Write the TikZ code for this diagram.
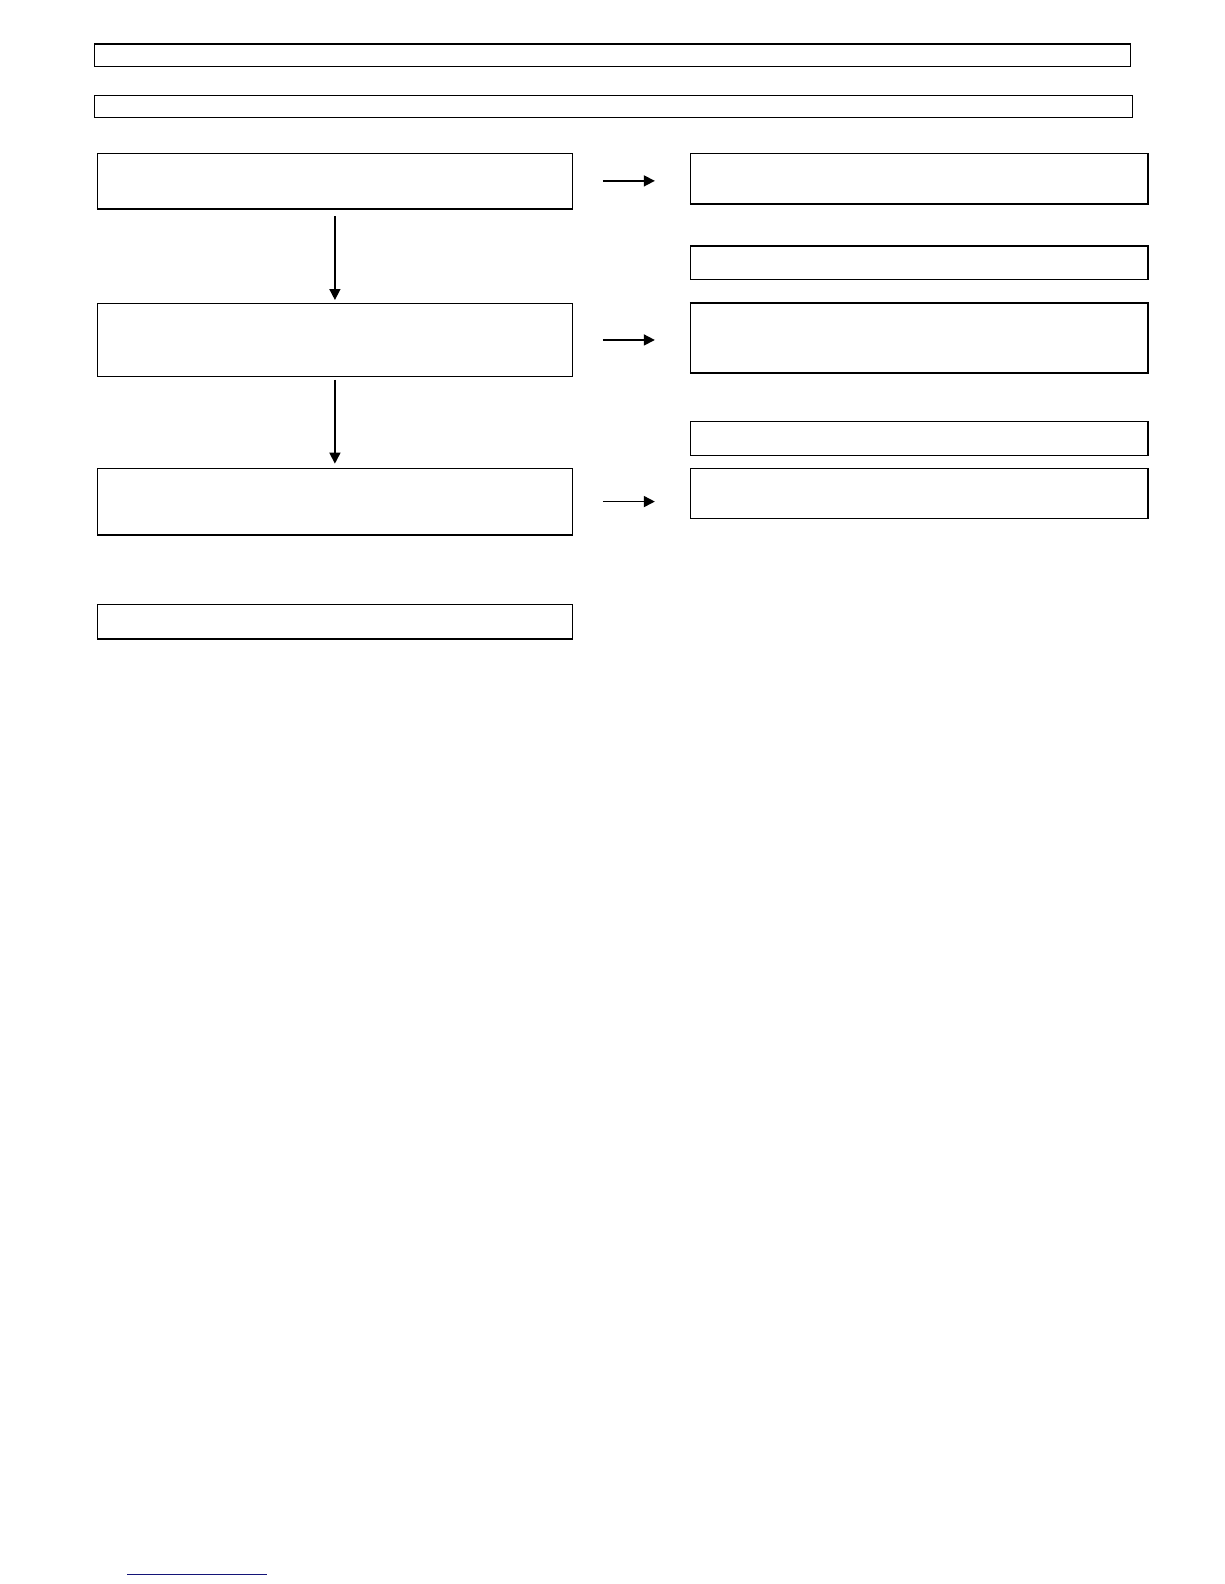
\documentclass[tikz,border=0pt]{standalone}
\usepackage{tikz}
\usetikzlibrary{positioning, arrows.meta}
\newcommand{\pxu}{0.505pt}

\begin{document}
\begin{tikzpicture}[x=\pxu, y=-\pxu, line width=0.6pt,
    box/.style={draw, rectangle, inner sep=0pt, anchor=north west},
    arr/.style={-{Triangle[length=5.5pt,width=5.5pt]}, line width=0.8pt},
    heavy/.style={line width=1.2pt}]
 			\useasboundingbox (0,0) rectangle (1211.9,1568.3);
 			\node[box, minimum width=1026*\pxu, minimum height=22*\pxu] (t1) at (93,43) {};
 			\node[box, minimum width=1028*\pxu, minimum height=22*\pxu] (t2) at (93,94) {};
 			\node[box, minimum width=470*\pxu, minimum height=55*\pxu] (L1) at (96,151) {};
 			\node[box, minimum width=470*\pxu, minimum height=72*\pxu] (L2) at (96,300) {};
 			\node[box, minimum width=470*\pxu, minimum height=66*\pxu] (L3) at (96,463) {};
 			\node[box, minimum width=470*\pxu, minimum height=34*\pxu] (L4) at (96,598) {};
 			\node[box, minimum width=453*\pxu, minimum height=50*\pxu] (R1) at (683,151) {};
 			\node[box, minimum width=453*\pxu, minimum height=33*\pxu] (R1b) at (683,243) {};
 			\node[box, minimum width=453*\pxu, minimum height=68*\pxu] (R2) at (683,300) {};
 			\node[box, minimum width=453*\pxu, minimum height=33*\pxu] (R2b) at (683,417) {};
 			\node[box, minimum width=453*\pxu, minimum height=50*\pxu] (R3) at (683,463) {};
 			\coordinate (s1) at (126,1559);
 			\coordinate (s2) at (264,1559);
 			
 			% heavier edges
 			\draw[heavy] (L1.south west) -- (L1.south east);
 			\draw[heavy] (R1.south west) -- (R1.south east);
 			\draw[heavy] (R2.north west) -- (R2.north east);
 			\draw[heavy] (R2.south west) -- (R2.south east);
 			
 			\draw[arr, shorten <=3.5pt, shorten >=1.5pt] (L1.south) -- (L2.north);
 			\draw[arr, shorten <=1.5pt, shorten >=2pt] (L2.south) -- (L3.north);
 			\draw[arr, shorten <=15pt, shorten >=17.5pt] (L1.east) -- (L1.east -| R1.west);
 			\draw[arr, shorten <=15pt, shorten >=17.5pt] (L2.east) -- (L2.east -| R2.west);
 			\draw[arr, shorten <=15pt, shorten >=17.5pt] (L3.east) -- (L3.east -| R3.west);
 			\draw[color={rgb,255:red,20;green,20;blue,120}, line width=0.8pt] (s1) -- (s2);
 		\end{tikzpicture}
\end{document}
